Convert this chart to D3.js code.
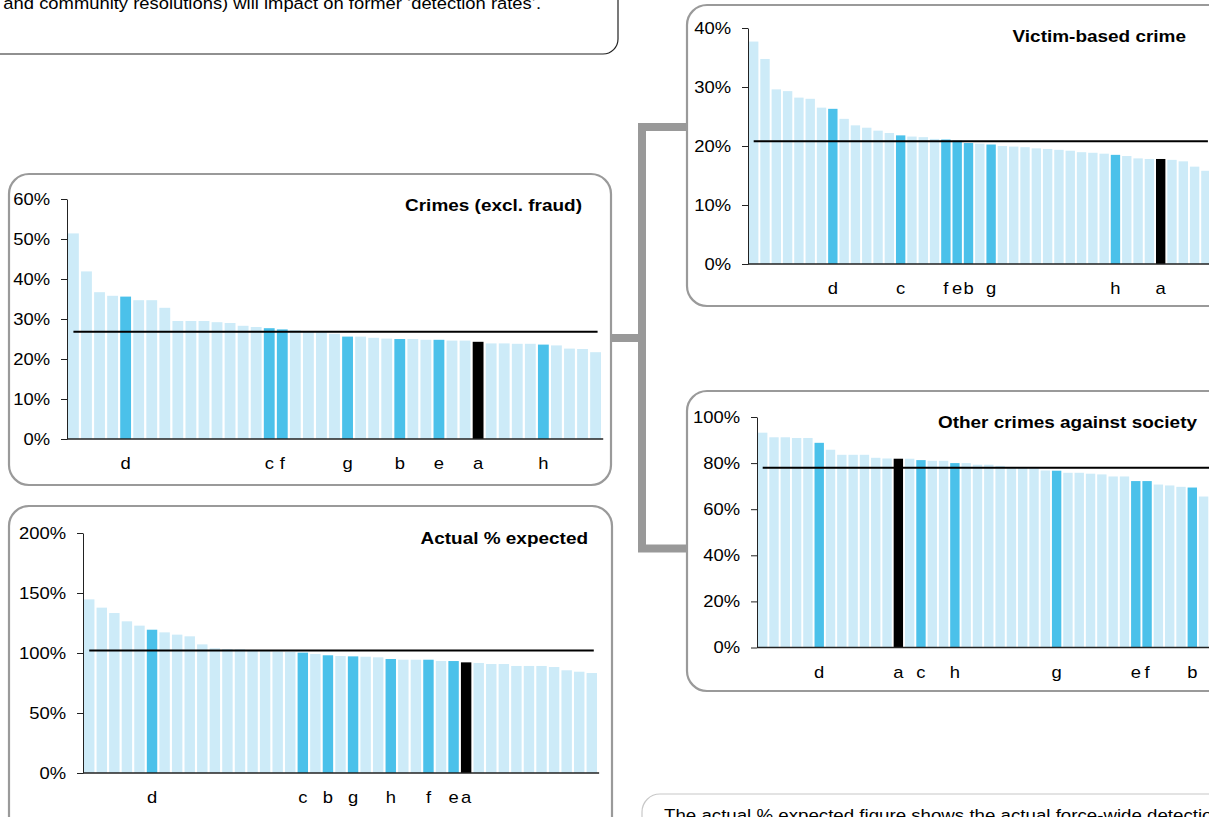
<!DOCTYPE html>
<html><head><meta charset="utf-8">
<script src="https://cdn.jsdelivr.net/npm/d3@7"></script>
<style>
body{margin:0;background:#fff;overflow:hidden;}
svg{display:block;font-family:"Liberation Sans",Arial,sans-serif;}
</style>
</head><body>
<svg id="chart" width="1209" height="817"></svg>
<script>
// ---------------- DATA ----------------
const crimesValues = [51.4, 41.9, 36.7, 35.8, 35.6, 34.7, 34.7, 32.8, 29.5, 29.5, 29.5, 29.2, 29.0, 28.3, 28.0, 27.7, 27.4, 27.2, 26.9, 26.7, 26.3, 25.6, 25.6, 25.3, 25.1, 25.0, 25.0, 24.8, 24.8, 24.6, 24.6, 24.3, 23.9, 23.9, 23.8, 23.8, 23.6, 23.4, 22.6, 22.5, 21.7];
const crimesLetters = ["d", "c", "f", "g", "b", "e", "a", "h"];
const crimesLetterIdx = [4, 15, 16, 21, 25, 28, 31, 36];
const crimesAverage = 26.8;
const crimesTicks = [0, 10, 20, 30, 40, 50, 60];

const actualValues = [144.7, 137.8, 133.3, 126.4, 122.8, 119.4, 117.2, 115.3, 113.9, 107.2, 103.9, 103.3, 103.1, 102.2, 101.6, 101.3, 101.0, 100.3, 99.2, 98.1, 97.5, 97.2, 96.9, 96.4, 95.0, 94.4, 94.4, 94.4, 93.3, 93.3, 92.2, 91.7, 90.8, 90.8, 89.2, 89.2, 89.2, 88.3, 85.6, 84.4, 83.3];
const actualLetters = ["d", "c", "b", "g", "h", "f", "e", "a"];
const actualLetterIdx = [5, 17, 19, 21, 24, 27, 29, 30];
const actualAverage = 102;
const actualTicks = [0, 50, 100, 150, 200];

const victimValues = [37.7, 34.75, 29.6, 29.3, 28.2, 28.0, 26.5, 26.3, 24.6, 23.5, 23.1, 22.6, 22.2, 21.8, 21.6, 21.5, 21.2, 21.1, 20.9, 20.5, 20.4, 20.25, 20.0, 19.9, 19.8, 19.6, 19.5, 19.35, 19.2, 18.95, 18.85, 18.7, 18.5, 18.3, 17.9, 17.8, 17.8, 17.65, 17.4, 16.5, 15.8];
const victimLetters = ["d", "c", "f", "e", "b", "g", "h", "a"];
const victimLetterIdx = [7, 13, 17, 18, 19, 21, 32, 36];
const victimAverage = 20.8;
const victimTicks = [0, 10, 20, 30, 40];

const otherValues = [93.2, 91.2, 91.2, 90.9, 90.9, 88.8, 85.8, 83.6, 83.6, 83.6, 82.3, 82.0, 81.9, 81.9, 81.3, 81.0, 81.0, 80.0, 80.0, 79.3, 79.3, 78.8, 78.2, 78.0, 77.8, 76.8, 76.7, 75.8, 75.8, 75.4, 75.1, 74.2, 74.2, 72.2, 72.2, 70.7, 70.3, 69.7, 69.4, 65.5, 63.0];
const otherLetters = ["d", "a", "c", "h", "g", "e", "f", "b"];
const otherLetterIdx = [5, 12, 14, 17, 26, 33, 34, 38];
const otherAverage = 78.0;
const otherTicks = [0, 20, 40, 60, 80, 100];

const titles = ["Crimes (excl. fraud)", "Actual % expected", "Victim-based crime", "Other crimes against society"];
const topNote = "and community resolutions) will impact on former \u2018detection rates\u2019.";
const bottomNote = "The actual % expected figure shows the actual force-wide detection rate";

// ---------------- LAYOUT ----------------
const svg = d3.select("#chart");
const C_LIGHT = "#cdebf8", C_MID = "#4bc1ea", C_BLACK = "#000";
const SX = 1.15; // horizontal text stretch

const panels = [
  {title: titles[0], values: crimesValues, letters: crimesLetters, idx: crimesLetterIdx, avg: crimesAverage, ticks: crimesTicks,
   box: [9, 174, 602, 311], axisX: 67, y0: 439, yTop: 199, x0: 68, x1: 601, titleX: 582, titleY: 211},
  {title: titles[1], values: actualValues, letters: actualLetters, idx: actualLetterIdx, avg: actualAverage, ticks: actualTicks,
   box: [9, 506, 603, 340], axisX: 83, y0: 773, yTop: 533, x0: 84, x1: 597, titleX: 588, titleY: 544},
  {title: titles[2], values: victimValues, letters: victimLetters, idx: victimLetterIdx, avg: victimAverage, ticks: victimTicks,
   box: [687, 5, 560, 301], axisX: 748, y0: 264, yTop: 28, x0: 749, x1: 1210.6, titleX: 1186, titleY: 42},
  {title: titles[3], values: otherValues, letters: otherLetters, idx: otherLetterIdx, avg: otherAverage, ticks: otherTicks,
   box: [687, 391, 560, 300], axisX: 757, y0: 647.5, yTop: 417, x0: 758, x1: 1219.6, titleX: 1197, titleY: 428}
];

function stretchedText(g, x, y, str, opts) {
  return g.append("text")
    .attr("transform", `translate(${x},${y}) scale(${opts.sx || SX},1)`)
    .attr("text-anchor", opts.anchor || "start")
    .attr("font-size", opts.size || 16)
    .attr("font-weight", opts.weight || "normal")
    .attr("fill", opts.fill || "#000")
    .text(str);
}

// top note box
svg.append("rect").attr("x", -30).attr("y", -120).attr("width", 648).attr("height", 174)
  .attr("rx", 15).attr("fill", "none").attr("stroke", "#222").attr("stroke-width", 1.2);
stretchedText(svg, 541, 9, topNote, {anchor: "end", size: 16.5, sx: 1.115});

// bottom note box
svg.append("rect").attr("x", 642).attr("y", 794).attr("width", 620).attr("height", 120)
  .attr("rx", 18).attr("fill", "none").attr("stroke", "#c8c8c8").attr("stroke-width", 1.2);
stretchedText(svg, 664, 821, bottomNote, {anchor: "start", size: 16.5, sx: 1.133});

// bracket connector
const bracket = svg.append("g").attr("stroke", "#999").attr("stroke-width", 8).attr("fill", "none");
bracket.append("path").attr("d", "M687,127 H642 V548.5 H687");
bracket.append("path").attr("d", "M611,338 H642");

const categories = d3.range(41);

panels.forEach(p => {
  const g = svg.append("g");
  const [bx, by, bw, bh] = p.box;
  g.append("rect").attr("x", bx).attr("y", by).attr("width", bw).attr("height", bh)
    .attr("rx", 20).attr("fill", "#fff").attr("stroke", "#9a9a9a").attr("stroke-width", 2.2);

  const x = d3.scaleBand().domain(categories).range([p.x0, p.x1]).paddingInner(0.17).paddingOuter(0);
  const y = d3.scaleLinear().domain([0, d3.max(p.ticks)]).range([p.y0, p.yTop]);

  const letterAt = {};
  p.idx.forEach((k, i) => letterAt[k] = p.letters[i]);

  g.selectAll("rect.bar").data(p.values).enter().append("rect")
    .attr("class", "bar")
    .attr("x", (d, i) => x(i))
    .attr("width", x.bandwidth())
    .attr("y", d => y(d))
    .attr("height", d => y(0) - y(d))
    .attr("fill", (d, i) => letterAt[i] === "a" ? C_BLACK : (letterAt[i] ? C_MID : C_LIGHT));

  // y axis
  const ax = g.append("g").attr("transform", `translate(${p.axisX},0)`)
    .call(d3.axisLeft(y).tickValues(p.ticks).tickFormat(d => d + "%").tickSize(6).tickPadding(11).tickSizeOuter(0));
  ax.select(".domain").attr("stroke", "#222");
  ax.selectAll(".tick line").attr("stroke", "#222");
  ax.selectAll(".tick text")
    .attr("font-family", "Liberation Sans, Arial, sans-serif")
    .attr("font-size", 16).attr("fill", "#000")
    .attr("x", -17 / SX).attr("dy", "0.34em")
    .attr("transform", `scale(${SX},1)`);

  // x axis baseline
  g.append("line").attr("x1", p.axisX).attr("x2", x(categories[categories.length - 1]) + x.step())
    .attr("y1", y(0)).attr("y2", y(0)).attr("stroke", "#222").attr("stroke-width", 1.3);

  // average line
  g.append("line")
    .attr("x1", x(0) + x.bandwidth() / 2)
    .attr("x2", x(40) + x.bandwidth() / 2 + 2)
    .attr("y1", y(p.avg)).attr("y2", y(p.avg))
    .attr("stroke", "#000").attr("stroke-width", 2);

  // letters
  p.idx.forEach((k, i) => {
    stretchedText(g, x(k) + x.bandwidth() / 2, p.y0 + 30, p.letters[i], {anchor: "middle", size: 16});
  });

  // title
  stretchedText(g, p.titleX, p.titleY, p.title, {anchor: "end", size: 17, weight: "bold", sx: 1.115});
});
</script>
</body></html>
